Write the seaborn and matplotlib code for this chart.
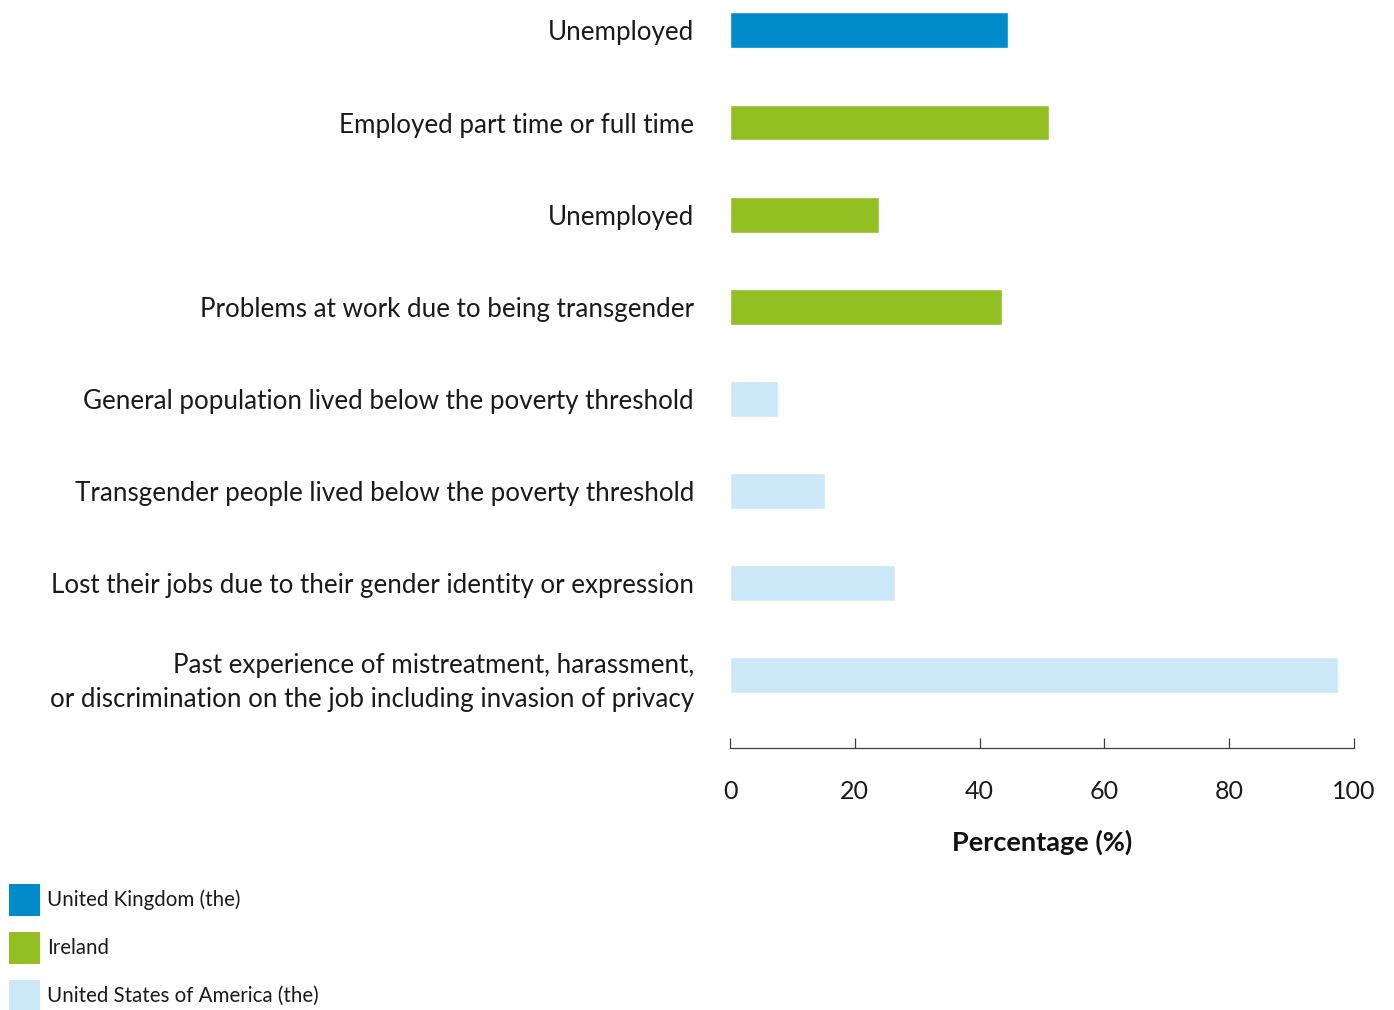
import matplotlib
matplotlib.use("Agg")
import matplotlib.pyplot as plt
from matplotlib.patches import Patch
import seaborn as sns
import pandas as pd

# ---- data ----
labels = [
    "Unemployed",
    "Employed part time or full time",
    "Unemployed",
    "Problems at work due to being transgender",
    "General population lived below the poverty threshold",
    "Transgender people lived below the poverty threshold",
    "Lost their jobs due to their gender identity or expression",
    "Past experience of mistreatment, harassment,\nor discrimination on the job including invasion of privacy",
]
countries = [
    "United Kingdom (the)",
    "Ireland",
    "Ireland",
    "Ireland",
    "United States of America (the)",
    "United States of America (the)",
    "United States of America (the)",
    "United States of America (the)",
]
values = [44.6, 51.1, 23.9, 43.6, 7.7, 15.3, 26.5, 97.4]
legend_order = ["United Kingdom (the)", "Ireland", "United States of America (the)"]
colors = {"United Kingdom (the)": "#008BCA", "Ireland": "#92C022",
          "United States of America (the)": "#CCE8F8"}
xticks = [0, 20, 40, 60, 80, 100]

keys = [f"{i}" for i in range(len(labels))]
df = pd.DataFrame({"key": keys, "label": labels, "country": countries, "value": values})

sns.set_theme(style="white")
plt.rcParams["font.family"] = ["Lato", "DejaVu Sans"]

fig = plt.figure(figsize=(13.94, 10.10), dpi=100)
ax = fig.add_axes([730 / 1394, 1 - 748 / 1010, 624 / 1394, 748 / 1010])

sns.barplot(data=df, x="value", y="key", hue="country", palette=colors,
            dodge=False, width=0.39, legend=False, ax=ax, saturation=1,
            order=keys)

ax.set_xlim(0, 100)
ax.set_ylim(7.79, -0.33)
ax.set_xticks(xticks)
ax.set_xticklabels([str(t) for t in xticks], fontsize=18, color="#1a1a1a")
ax.set_yticks(range(len(labels)))
ax.set_yticklabels(labels, fontsize=18.7, color="#1a1a1a", linespacing=1.45)
ax.tick_params(axis="y", length=0, pad=26)
ax.tick_params(axis="x", direction="in", length=7, width=0.9, color="#3c3c3c",
               pad=23, bottom=True)
ax.set_ylabel("")
ax.set_xlabel("Percentage (%)", fontsize=19.5, fontweight="bold", color="#111111",
              labelpad=19)
for s in ["top", "right", "left"]:
    ax.spines[s].set_visible(False)
ax.spines["bottom"].set_color("#3c3c3c")
ax.spines["bottom"].set_linewidth(0.9)

handles = [Patch(facecolor=colors[c], edgecolor="none", label=c) for c in legend_order]
fig.legend(handles=handles, loc="upper left",
           bbox_to_anchor=(9 / 1394, 1 - 884 / 1010),
           frameon=False, handlelength=1.5, handleheight=2.0,
           handletextpad=0.35, labelspacing=0.78, borderpad=0, borderaxespad=0,
           labelcolor="#1a1a1a", prop={"size": 14.8})

fig.savefig("out.png", dpi=100, facecolor="white")
